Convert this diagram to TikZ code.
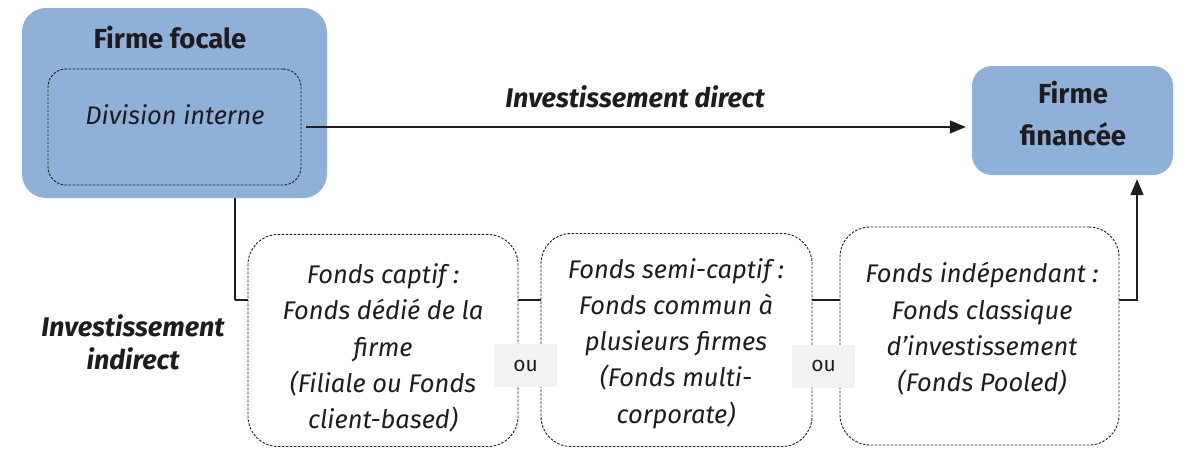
\documentclass[tikz,border=0pt]{standalone}
\usepackage{fontspec}
\setmainfont{Fira Sans}
\usetikzlibrary{arrows.meta}
\definecolor{boxblue}{RGB}{143,176,216}
\definecolor{ougray}{RGB}{241,242,244}
\definecolor{ink}{RGB}{30,28,30}
\begin{document}
\begin{tikzpicture}[x=1pt,y=-1pt,
  firmbox/.style={fill=boxblue,draw=none,rounded corners=24pt,inner sep=0pt},
  dashbox/.style={draw=ink,line width=0.9pt,dash pattern=on 2.5pt off 1.5pt,rounded corners=#1,inner sep=0pt},
  fundtxt/.style={font=\fontsize{25.5}{36.3}\selectfont\itshape,align=center,text=ink},
  titletxt/.style={font=\fontsize{27.5}{42}\selectfont\bfseries,align=center,text=ink},
  lbltxt/.style={font=\fontsize{27}{33}\selectfont\bfseries\itshape,align=center,text=ink},
  oubox/.style={fill=ougray,draw=none,minimum width=63pt,minimum height=43pt,inner sep=0pt,font=\fontsize{21}{24}\selectfont,text=ink},
  conn/.style={draw=ink,line width=1.6pt},
  arr/.style={conn,-{Triangle[length=16pt,width=13pt]}}]
\useasboundingbox (0,0) rectangle (1198,450);
% main firm
\node[firmbox,minimum width=305pt,minimum height=190pt] (focale) at (174.5,103) {};
\node[titletxt] (focaletitle) at (170,38) {Firme focale};
\node[dashbox=18pt,minimum width=253pt,minimum height=116pt] (division) at (174.5,127) {};
\node[fundtxt] (divtxt) at (175,115) {Division interne};
% financed firm
\node[firmbox,rounded corners=20pt,minimum width=201pt,minimum height=109pt] (financee) at (1072.5,120.5) {};
\node[titletxt] (fintxt) at (1073,114) {Firme\\financée};
% direct investment
\draw[arr,shorten <=5pt,shorten >=6pt] (division.east) -- (division.east -| financee.west);
\node[lbltxt] (direct) at (635,97) {Investissement direct};
% funds
\node[dashbox=30pt,minimum width=270pt,minimum height=212pt] (captif) at (383,340.5) {};
\node[fundtxt] (captiftxt) at (383,348) {Fonds captif :\\Fonds dédié de la\\firme\\(Filiale ou Fonds\\client-based)};
\node[dashbox=30pt,minimum width=271pt,minimum height=213pt] (semi) at (676.5,340) {};
\node[fundtxt] (semitxt) at (676,343.5) {Fonds semi-captif :\\Fonds commun à\\plusieurs firmes\\(Fonds multi-\\corporate)};
\node[dashbox=30pt,minimum width=279pt,minimum height=218pt] (indep) at (979.5,336) {};
\node[fundtxt] (indeptxt) at (982,329) {Fonds indépendant :\\Fonds classique\\d’investissement\\(Fonds Pooled)};
% indirect investment
\coordinate (j1) at (235,300);
\coordinate (j2) at (1137,300);
\draw[conn,line width=2.8pt] (focale.south -| j1) -- (j1);
\draw[conn] (j1) -- (j1 -| captif.west);
\draw[conn] (captif.east |- j1) -- (semi.west |- j1);
\draw[conn] (semi.east |- j1) -- (indep.west |- j1);
\draw[arr,shorten >=4pt] (indep.east |- j2) -- (j2) -- (j2 |- financee.south);
\node[lbltxt] (indirect) at (133,342) {Investissement\\indirect};
% ou
\node[oubox] (ou1) at (525.5,365.5) {ou};
\node[oubox] (ou2) at (823.5,366) {ou};
\end{tikzpicture}
\end{document}
